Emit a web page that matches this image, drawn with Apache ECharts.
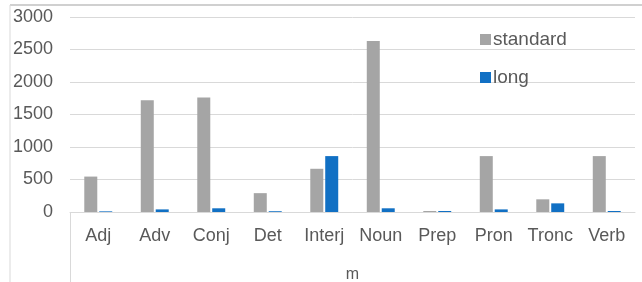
<!DOCTYPE html>
<html>
<head>
<meta charset="utf-8">
<script src="https://cdn.jsdelivr.net/npm/echarts@6/dist/echarts.min.js"></script>
<style>
    html, body {margin: 0; padding: 0; background: #fff;}
    #chart {width: 642px; height: 282px;}
</style>
</head>
<body>
<div id="chart"></div>
<script>
// 词性类别
let categories = ['Adj', 'Adv', 'Conj', 'Det', 'Interj', 'Noun', 'Prep', 'Pron', 'Tronc', 'Verb'];
let standardValues = [545, 1720, 1760, 290, 665, 2630, 15, 860, 195, 860];
let longValues = [10, 40, 57, 12, 860, 57, 15, 40, 133, 15];
let yTicks = [0, 500, 1000, 1500, 2000, 2500, 3000];

let TEXT_COLOR = '#595959';
let LINE_COLOR = '#d9d9d9';

let myChart = echarts.init(document.getElementById('chart'));
let option = {
    animation: false,
    grid: {left: 70, right: 7, top: 17, bottom: 70, outerBoundsMode: 'none', containLabel: false},
    legend: {
        orient: 'vertical',
        left: 475,
        top: 25,
        itemWidth: 11,
        itemHeight: 11,
        itemGap: 19,
        icon: 'rect',
        textStyle: {color: TEXT_COLOR, fontSize: 19, fontFamily: 'Liberation Sans', padding: [0, 0, 0, -3]},
        data: ['standard', 'long']
    },
    xAxis: {
        type: 'category',
        data: categories,
        name: 'm',
        nameLocation: 'middle',
        nameGap: 55,
        nameTextStyle: {color: TEXT_COLOR, fontSize: 16, fontFamily: 'Liberation Sans'},
        axisLine: {lineStyle: {color: LINE_COLOR, width: 1}},
        axisTick: {show: false},
        axisLabel: {color: TEXT_COLOR, fontSize: 18, fontFamily: 'Liberation Sans', margin: 15, interval: 0}
    },
    yAxis: {
        type: 'value',
        min: yTicks[0],
        max: yTicks[yTicks.length - 1],
        interval: 500,
        axisLine: {show: false},
        axisTick: {show: false},
        axisLabel: {
            color: TEXT_COLOR, fontSize: 18, fontFamily: 'Liberation Sans', margin: 17,
            formatter: function (val) {
                return String(val);
            }
        },
        splitLine: {lineStyle: {color: LINE_COLOR, width: 1}}
    },
    graphic: [
        {type: 'line', shape: {x1: 10, y1: 5, x2: 642, y2: 5}, style: {stroke: '#d0d0d0', lineWidth: 2}},
        {type: 'line', shape: {x1: 10, y1: 5, x2: 10, y2: 282}, style: {stroke: LINE_COLOR, lineWidth: 1}},
        {type: 'line', shape: {x1: 70.5, y1: 212, x2: 70.5, y2: 282}, style: {stroke: LINE_COLOR, lineWidth: 1}}
    ],
    series: [
        {
            name: 'standard',
            type: 'bar',
            data: standardValues,
            barWidth: 13,
            barGap: '15%',
            itemStyle: {color: '#a5a5a5'}
        },
        {
            name: 'long',
            type: 'bar',
            data: longValues,
            barWidth: 13,
            itemStyle: {color: '#1170c4'}
        }
    ]
};
myChart.setOption(option, true);
</script>
</body>
</html>
